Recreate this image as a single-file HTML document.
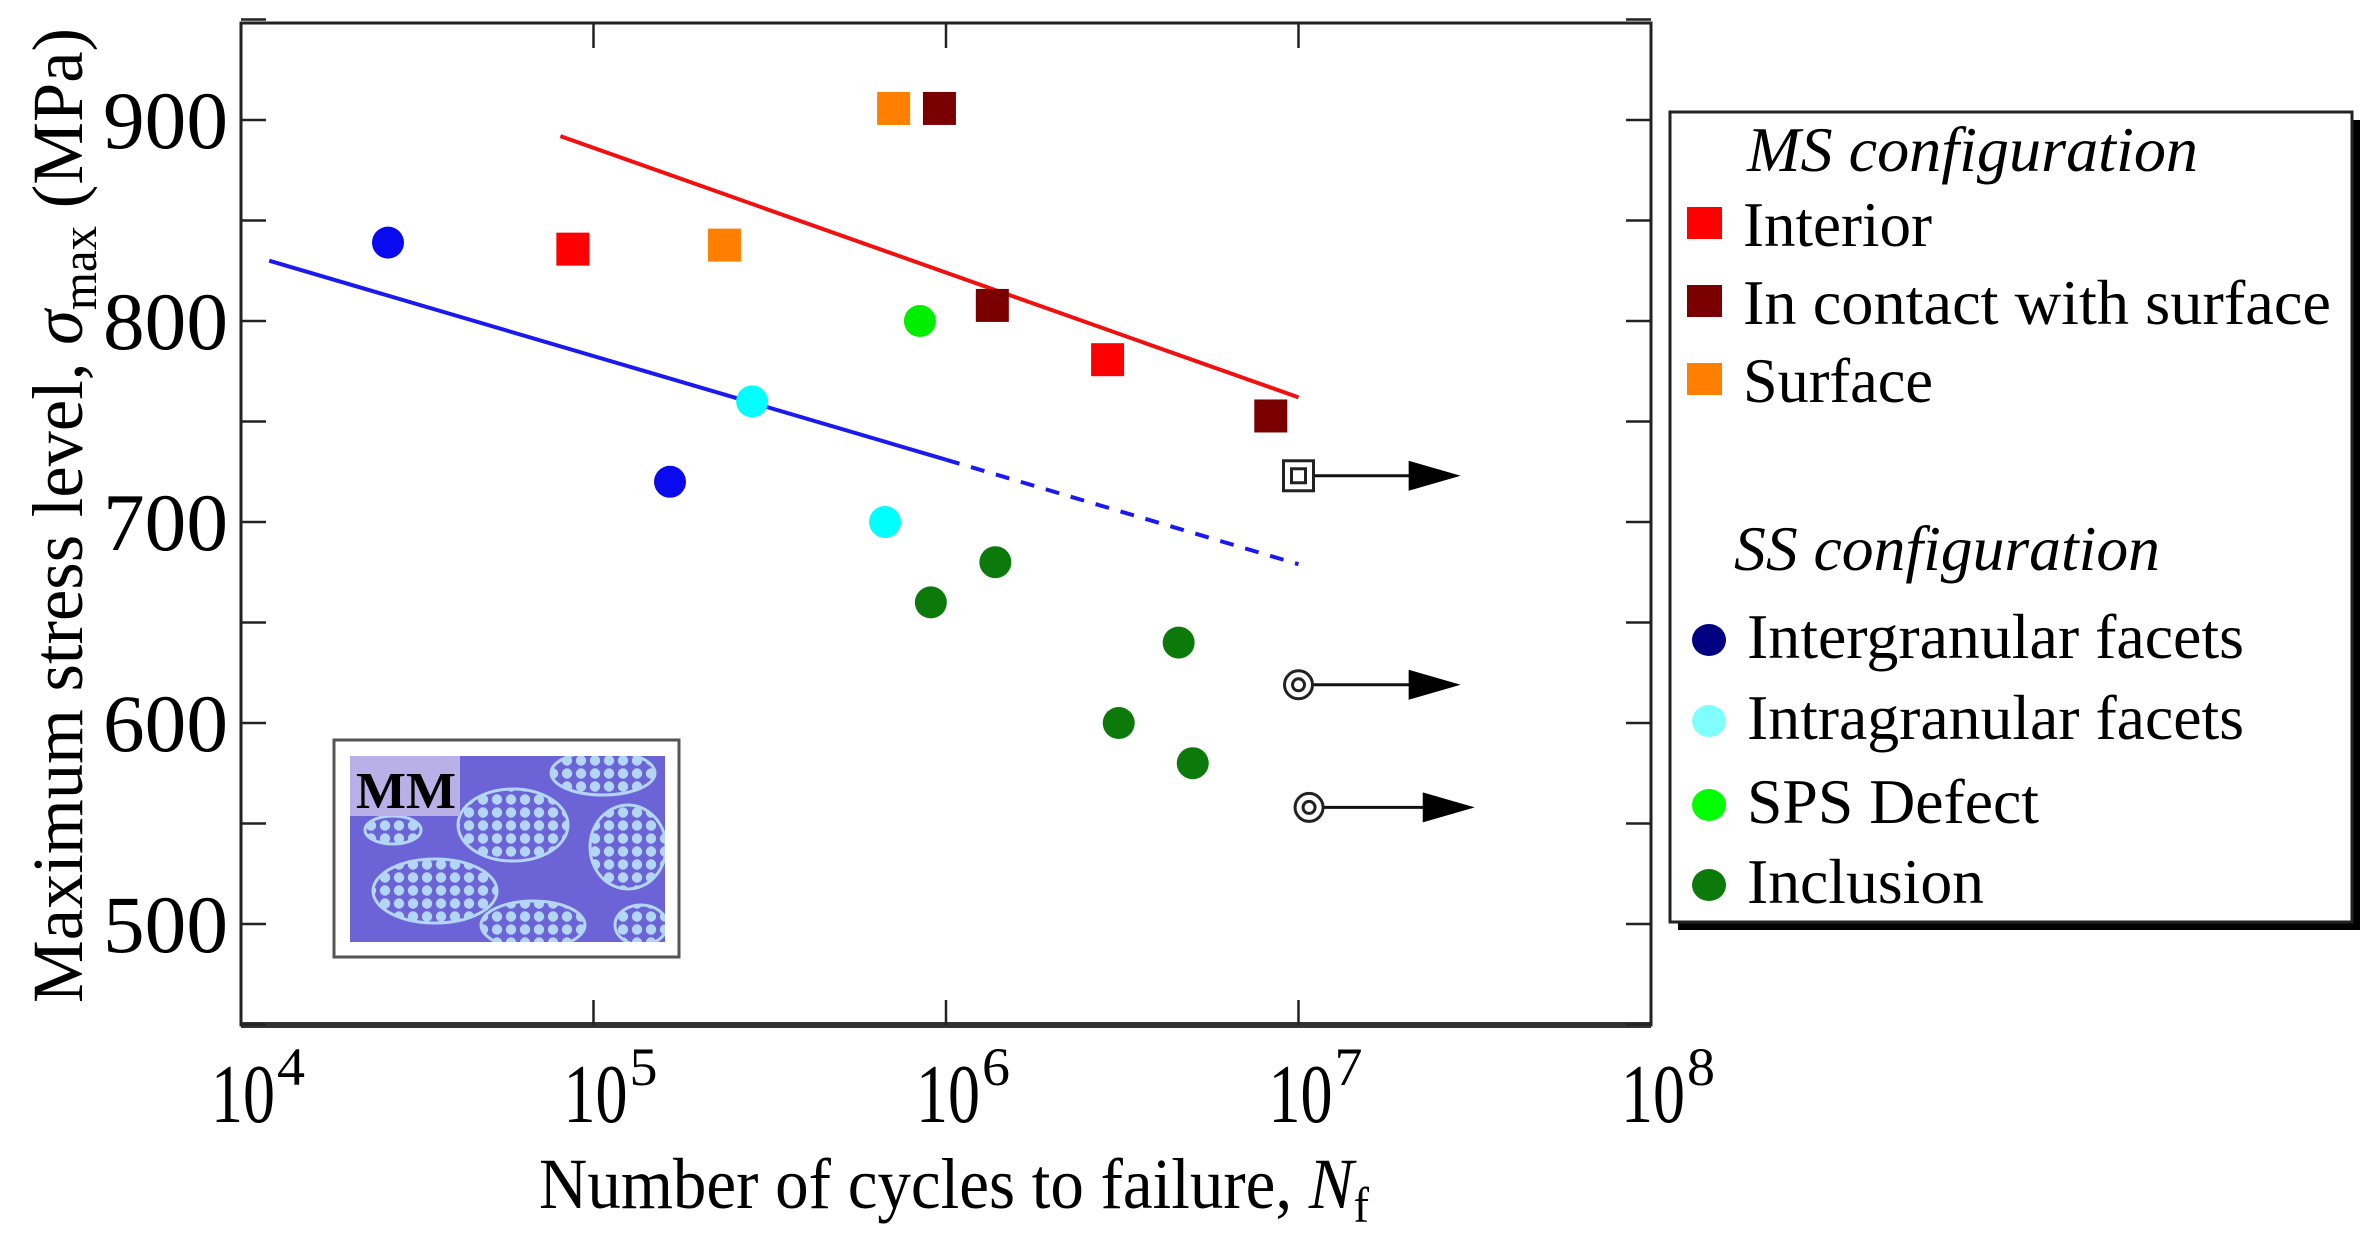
<!DOCTYPE html>
<html><head><meta charset="utf-8"><style>
html,body{margin:0;padding:0;background:#fff;}
svg{display:block;}
text{font-family:"Liberation Serif",serif;fill:#000;}
</style></head><body>
<svg id="chart" width="2371" height="1255" viewBox="0 0 2371 1255" xmlns="http://www.w3.org/2000/svg">
<defs>
<pattern id="cells" width="14" height="13" patternUnits="userSpaceOnUse">
<rect width="14" height="13" fill="#6b63d6"/>
<circle cx="7" cy="6.5" r="5.2" fill="#b3d6f7"/>
</pattern>
<clipPath id="insetclip"><rect x="350" y="756" width="315" height="186"/></clipPath>
</defs>
<g id="plot"></g>
</svg>
<script>
const categories = ["Interior","In contact with surface","Surface","Intergranular facets","Intragranular facets","SPS Defect","Inclusion"];
const interiorLogN = [4.94, 6.457];
const interiorS = [836, 781];
const contactLogN = [5.98, 6.13, 6.92];
const contactS = [906, 808, 753];
const surfaceLogN = [5.85, 5.37];
const surfaceS = [906, 838];
const interLogN = [4.417, 5.217];
const interS = [839, 720];
const intraLogN = [5.45, 5.827];
const intraS = [760, 700];
const spsLogN = [5.926];
const spsS = [800];
const inclLogN = [5.957, 6.14, 6.49, 6.66, 6.70];
const inclS = [660, 680, 600, 640, 580];
const redLineLogN = [4.906, 7.0];
const redLineS = [892, 762];
const blueSolidLogN = [4.08, 6.0];
const blueSolidS = [830, 731];
const blueDashLogN = [6.0, 7.0];
const blueDashS = [731, 679];
const runoutLogN = [7.0, 7.0, 7.03];
const runoutS = [723, 619, 558];
const runoutEndLogN = [7.46, 7.46, 7.5];
const runoutKind = ["square","circle","circle"];
const xTickExp = [4,5,6,7,8];
const yTickVals = [500,600,700,800,900];
const yMinorVals = [450,550,650,750,850,950];

const NS="http://www.w3.org/2000/svg";
const L=241,R=1651,T=23,B=1025;
function X(lg){return L+(lg-4)*(R-L)/4;}
function Y(v){return 120+(900-v)*(924-120)/400;}
const svg=document.getElementById('plot');
function mk(tag,attrs,parent){const e=document.createElementNS(NS,tag);for(const k in attrs)e.setAttribute(k,attrs[k]);(parent||svg).appendChild(e);return e;}

// inset
const inset=mk('g',{});


mk('rect',{x:334,y:740,width:345,height:217,fill:'#fff',stroke:'#555','stroke-width':3},inset);
mk('rect',{x:350,y:756,width:315,height:186,fill:'#6b63d6'},inset);
const blobs=mk('g',{'clip-path':'url(#insetclip)'},inset);
[[603,773,52,22],[513,825,55,36],[628,847,38,42],[435,891,62,32],[533,925,52,24],[641,925,26,20],[393,830,28,14]].forEach(b=>{
 mk('ellipse',{cx:b[0],cy:b[1],rx:b[2],ry:b[3],fill:'url(#cells)',stroke:'#b3d6f7','stroke-width':3},blobs);
});
mk('rect',{x:350,y:756,width:110,height:60,fill:'#b9b0e8'},inset);
const mm=mk('text',{x:356,y:808,'font-size':52,'font-weight':'bold',textLength:100,lengthAdjust:'spacingAndGlyphs'},inset);
mm.textContent='MM';



// frame
const frame=mk('rect',{x:L,y:T,width:R-L,height:B-T,fill:'none',stroke:'#222','stroke-width':3});


mk('line',{x1:L,y1:B,x2:R,y2:B,stroke:'#333','stroke-width':6});

// y ticks
yTickVals.concat(yMinorVals).forEach(v=>{
 const y=Y(v);
 mk('line',{x1:L,y1:y,x2:L+25,y2:y,stroke:'#222','stroke-width':2.5});
 mk('line',{x1:R,y1:y,x2:R-25,y2:y,stroke:'#222','stroke-width':2.5});
});
yTickVals.forEach(v=>{
 const t=mk('text',{x:228,y:Y(v)+28,'font-size':82,'text-anchor':'end',textLength:125,lengthAdjust:'spacingAndGlyphs'});
 t.textContent=String(v);
 
 
});
// x ticks
xTickExp.forEach(e=>{
 const x=X(e);
 mk('line',{x1:x,y1:B,x2:x,y2:B-25,stroke:'#222','stroke-width':2.5});
 mk('line',{x1:x,y1:T,x2:x,y2:T+25,stroke:'#222','stroke-width':2.5});
 const t=mk('text',{x:x-30,y:1122,'font-size':84,textLength:64,lengthAdjust:'spacingAndGlyphs'});
 t.textContent='10';
 
 
 const s=mk('text',{x:x+36,y:1085,'font-size':54,textLength:28,lengthAdjust:'spacingAndGlyphs'});
 s.textContent=String(e);
 
 
});

// axis titles
const xt=mk('text',{x:539,y:1208,'font-size':72,textLength:830,lengthAdjust:'spacingAndGlyphs'});
xt.innerHTML='Number of cycles to failure, <tspan font-style="italic">N</tspan><tspan font-size="50" dy="14">f</tspan>';


const yt=mk('text',{x:0,y:0,'font-size':72,transform:'translate(82,1003) rotate(-90)',textLength:975,lengthAdjust:'spacingAndGlyphs'});
yt.innerHTML='Maximum stress level, <tspan font-style="italic">σ</tspan><tspan font-size="50" dy="14">max</tspan><tspan dy="-14">  (MPa)</tspan>';



// fit lines
function line(xs,ys,color,name,dash){
 const l=mk('line',{x1:X(xs[0]),y1:Y(ys[0]),x2:X(xs[1]),y2:Y(ys[1]),stroke:color,'stroke-width':4});
 if(dash)l.setAttribute('stroke-dasharray',dash);
 
 
}
line(redLineLogN,redLineS,'#f01010','ms-fit-line');
line(blueSolidLogN,blueSolidS,'#1a1aee','ss-fit-line');
line(blueDashLogN,blueDashS,'#1a1aee','ss-fit-extrapolation','14,12');

// markers
function squares(xs,ys,color,name){xs.forEach((lg,i)=>{
 const r=mk('rect',{x:X(lg)-16,y:Y(ys[i])-16,width:33,height:33,fill:color});
 
 
});}
function circles(xs,ys,color,name){xs.forEach((lg,i)=>{
 const c=mk('ellipse',{cx:X(lg),cy:Y(ys[i]),rx:16,ry:16,fill:color});
 
 
});}
squares(interiorLogN,interiorS,'#ff0000','interior-point');
squares(contactLogN,contactS,'#7a0000','contact-point');
squares(surfaceLogN,surfaceS,'#ff7f00','surface-point');
circles(interLogN,interS,'#0a0aee','intergranular-point');
circles(intraLogN,intraS,'#00ffff','intragranular-point');
circles(spsLogN,spsS,'#00ee00','sps-defect-point');
circles(inclLogN,inclS,'#0b7a0b','inclusion-point');

// runouts
runoutLogN.forEach((lg,i)=>{
 const g=mk('g',{});
 
 
 const x=X(lg),y=Y(runoutS[i]),xe=X(runoutEndLogN[i]);
 mk('line',{x1:x,y1:y,x2:xe-50,y2:y,stroke:'#111','stroke-width':3},g);
 mk('polygon',{points:`${xe-52},${y-15} ${xe},${y} ${xe-52},${y+15}`,fill:'#000'},g);
 if(runoutKind[i]==='square'){
  mk('rect',{x:x-15,y:y-15,width:30,height:30,fill:'#fff',stroke:'#222','stroke-width':3},g);
  mk('rect',{x:x-7,y:y-7,width:14,height:14,fill:'#fff',stroke:'#222','stroke-width':3},g);
 }else{
  mk('circle',{cx:x,cy:y,r:14,fill:'#fff',stroke:'#222','stroke-width':3},g);
  mk('circle',{cx:x,cy:y,r:6,fill:'#fff',stroke:'#222','stroke-width':3},g);
 }
});

// legend
const lg=mk('g',{});


mk('rect',{x:1678,y:120,width:682,height:810,fill:'#000'},lg);
mk('rect',{x:1670,y:112,width:682,height:810,fill:'#fff',stroke:'#222','stroke-width':3},lg);
function ltext(x,y,str,len,italic,name){
 const t=mk('text',{x:x,y:y,'font-size':64,textLength:len,lengthAdjust:'spacingAndGlyphs'},lg);
 if(italic)t.setAttribute('font-style','italic');
 t.textContent=str;
 
 
}
ltext(1747,171,'MS configuration',451,true,'legend-ms-title');
ltext(1734,570,'SS configuration',426,true,'legend-ss-title');
const legSq=[['#ff0000',246,189],['#7a0000',324,588],['#ff7f00',402,190]];
legSq.forEach((s,i)=>{
 const r=mk('rect',{x:1687,y:s[1]-39,width:35,height:32,fill:s[0]},lg);
 
 
 ltext(1743,s[1],categories[i],s[2],false,'legend-entry');
});
const legCi=[['#000080',658,497],['#80ffff',739,497],['#00ff00',823,292],['#0b7a0b',903,237]];
legCi.forEach((s,i)=>{
 const c=mk('ellipse',{cx:1709,cy:s[1]-18,rx:17,ry:16,fill:s[0]},lg);
 
 
 ltext(1747,s[1],categories[i+3],s[2],false,'legend-entry');
});
</script>
</body></html>
